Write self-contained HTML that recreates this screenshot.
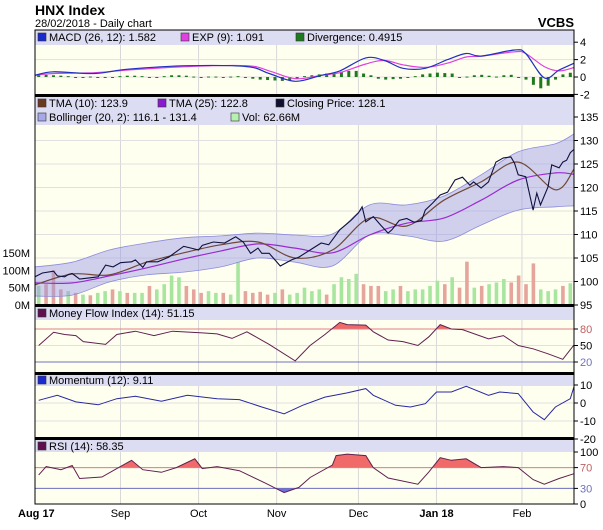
<!DOCTYPE html>
<html><head><meta charset="utf-8">
<style>
html,body{margin:0;padding:0;background:#fff;}
svg{display:block;font-family:"Liberation Sans",sans-serif;}
</style></head>
<body>
<svg id="chart" width="603" height="530" viewBox="0 0 603 530">
  <text x="35" y="15" font-size="14" font-weight="bold" fill="#000">HNX Index</text>
  <text x="35" y="27" font-size="11" fill="#000">28/02/2018 - Daily chart</text>
  <text x="574" y="27" font-size="13" font-weight="bold" text-anchor="end" fill="#000">VCBS</text>
  <g id="layer"></g>
</svg>
<script>
// ---- data ----
const monthLabels = ["Aug 17","Sep","Oct","Nov","Dec","Jan 18","Feb"];
const monthDays = [0,23,44,65,87,108,131];
const closeDays = [0,2,5,6,8,9,10,12,14,17,19,21,23,26,27,29,30,33,36,40,42,44,45,48,51,54,56,58,60,61,63,66,69,71,74,77,79,82,85,87,88,89,91,93,95,96,98,100,102,104,105,107,109,111,113,115,117,118,120,122,124,126,128,129,130,132,134,135,136,138,139,141,142,143,144,145];
const closeVals = [101,101.8,102.2,101.2,101,101.5,101.7,100.5,100.7,101,103.5,103.1,104,104.2,104.6,103,104.2,104.2,105.2,107.5,107.1,106.7,107.7,108.4,108.2,109.5,108.4,106,107.1,106,106,103.3,104.6,105.2,106.7,108.2,107.8,111,113,114.6,115.9,112.7,113.8,112,110.3,111,113,113.4,112.6,113,115.2,116.7,118.4,119,121.6,122.2,120.5,121.2,119.9,121.2,125.4,126.3,126.5,125.2,122.7,122.3,115.2,118.8,116.3,120.1,124.8,124.2,125.4,125.8,127.4,128.1];
const bandDays = [0,10,20,30,40,50,60,70,80,90,100,110,120,130,140,145];
const tma10 = [99.3,101.6,101.4,104.1,106.1,107.8,108.4,105,106.7,113.5,111.8,117.3,121.2,125.4,119.5,123.9];
const tma25 = [99.7,99.7,101.2,102.9,104.8,106.5,108,107.1,106.1,109.9,112.4,113.5,117.3,121.6,123.1,122.8];
const bbUpper = [103.1,104.1,106.7,108.2,109.3,109.7,110.3,109.9,110.1,116.3,116.3,118.2,122.7,127.6,129.3,131.4];
const bbLower = [96.9,97.1,99.9,101.4,102,103.1,105,104.1,103.3,109.9,109.7,108.6,112,115.2,115.9,116.1];
const volumes = [55,60,100,45,40,35,30,28,35,40,45,40,35,35,35,55,45,60,85,80,55,45,35,40,35,35,30,124,40,35,38,30,35,45,30,35,50,40,45,30,60,80,75,90,60,55,55,40,45,55,40,45,45,55,70,60,80,50,125,50,55,60,65,75,65,85,60,120,45,40,45,55,62.66];
const volUp = [1,0,0,0,1,0,1,0,1,1,0,1,0,1,1,0,1,1,1,1,0,0,0,1,1,0,1,1,0,0,0,0,1,0,1,1,1,1,1,0,1,1,1,1,0,0,0,1,1,0,1,1,1,1,1,0,1,0,0,1,0,1,1,1,0,0,0,0,1,1,1,0,1];
const macdDays = [0,5,16,25,41,57,63,70,77,82,89,94,99,105,111,116,120,129,132,137,141,145];
const macdVals = [0.2,0.6,0.4,0.9,1.3,1.2,0.4,-0.5,0.2,0.7,2.2,1.9,1.0,1.0,2.0,2.7,2.4,3.1,2.7,-0.1,0.8,1.582];
const expVals = [0.2,0.4,0.5,0.8,1.2,1.3,0.7,-0.2,0.2,0.5,1.5,1.9,1.4,1.1,1.6,2.3,2.4,2.9,2.7,1.2,0.7,1.091];
const divergence = [0.2,0.25,0.2,0.15,0.1,0,0,0.05,0,0,-0.05,0.1,0.15,0.15,0.1,0,0,0.1,0.2,0.2,0.15,0.05,0,0.05,0.05,0,0.05,0.1,0,-0.2,-0.3,-0.35,-0.4,-0.45,-0.35,-0.2,0.1,0.2,0.3,0.4,0.5,0.6,0.7,0.7,0.4,0.2,-0.2,-0.3,-0.25,-0.2,-0.1,0.1,0.3,0.4,0.5,0.45,0.4,0,0.05,0.2,0.25,0.15,0.05,0.2,0.25,0,-0.3,-0.9,-1.3,-1.0,-0.3,0.3,0.49];
const mfiDays = [1,5,8,11,13,19,22,27,32,37,45,49,53,57,63,70,74,78,82,84,89,91,95,99,103,106,109,112,115,122,126,130,134,138,142,145];
const mfiVals = [50,74,70,68,57,52,70,76,68,76,73,71,63,75,52,22,50,70,92,88,87,75,60,57,50,66,88,80,79,62,68,50,44,35,25,51.15];
const momDays = [1,6,11,17,22,27,34,41,49,55,61,67,72,78,84,89,91,97,101,105,108,112,116,122,125,130,134,137,140,144,145];
const momVals = [1.5,4.3,0.6,-1,2.4,3.7,1,4.3,2.4,1.9,-2.2,-6,-1.3,3.3,5.6,8,4.3,-1.3,-2.2,-0.4,6.1,6.1,9.3,4.3,6.1,5.2,-5,-9.3,-2.2,2.4,9.11];
const rsiDays = [1,3,7,10,12,18,22,26,29,34,38,43,45,49,55,62,67,71,74,80,81,84,89,91,95,103,106,109,112,116,120,126,130,134,137,141,145];
const rsiVals = [56,72,66,74,49,52,68,84,66,61,70,87,68,72,64,40,22,32,51,75,93,96,93,70,50,38,62,89,84,87,70,72,70,47,38,49,58.35];
const macdTicks = [4,2,0,-2];
const priceTicks = [135,130,125,120,115,110,105,100,95];
const volTicks = [150,100,50,0];
const mfiTicks = [80,50,20];
const momTicks = [10,0,-10,-20];
const rsiTicks = [100,70,30,0];

// ---- layout ----
const X0 = 35, X1 = 574, NDAYS = 145;
const xs = d => X0 + d * (X1 - X0) / NDAYS;
const lin = (v0, y0, v1, y1) => v => y0 + (v - v0) * (y1 - y0) / (v1 - v0);
const yMacd = lin(0, 77, 4, 42.2);
const yPrice = lin(95, 305, 135, 117);
const yVol = lin(0, 305, 150, 253);
const yMfi = lin(20, 362, 80, 329);
const yMom = lin(0, 403, 10, 385);
const yRsi = lin(0, 504, 100, 452);

const NS = "http://www.w3.org/2000/svg";
const layer = document.getElementById("layer");
function mk(tag, attrs, parent) {
  const e = document.createElementNS(NS, tag);
  for (const k in attrs) e.setAttribute(k, attrs[k]);
  (parent || layer).appendChild(e);
  return e;
}
function linePath(days, vals, ys) {
  return days.map((d, i) => (i ? "L" : "M") + xs(d).toFixed(1) + "," + ys(vals[i]).toFixed(1)).join("");
}
function smoothPath(days, vals, ys, cont) {
  const p = days.map((d, i) => [xs(d), ys(vals[i])]);
  let s = cont ? "L" : "M";
  s += p[0][0].toFixed(1) + "," + p[0][1].toFixed(1);
  for (let i = 0; i < p.length - 1; i++) {
    const a = p[Math.max(0, i - 1)], b = p[i], c = p[i + 1], e = p[Math.min(p.length - 1, i + 2)];
    const c1 = [b[0] + (c[0] - a[0]) / 6, b[1] + (c[1] - a[1]) / 6];
    const c2 = [c[0] - (e[0] - b[0]) / 6, c[1] - (e[1] - b[1]) / 6];
    s += "C" + c1.map(v => v.toFixed(1)).join(",") + " " + c2.map(v => v.toFixed(1)).join(",") + " " + c[0].toFixed(1) + "," + c[1].toFixed(1);
  }
  return s;
}

const panels = [
  {name:"macd", top:30, leg:45, bot:95, ticks:macdTicks, ys:yMacd},
  {name:"price", top:96, leg:125, bot:305, ticks:priceTicks, ys:yPrice},
  {name:"mfi", top:306, leg:320, bot:373, ticks:mfiTicks, ys:yMfi},
  {name:"momentum", top:374, leg:386, bot:438, ticks:momTicks, ys:yMom},
  {name:"rsi", top:439, leg:452, bot:504, ticks:rsiTicks, ys:yRsi}
];

panels.forEach(p => {
  const g = mk("g", {});
  
  
  const bg = mk("rect", {x:X0, y:p.top, width:X1-X0, height:p.bot-p.top, fill:"#fffff0"}, g);
  
  
  monthDays.forEach(d => {
    const gl = mk("line", {x1:xs(d), x2:xs(d), y1:p.top, y2:p.bot, stroke:"#d8d8d8", "stroke-width":1}, g);
    
    
  });
  p.ticks.forEach(t => {
    const y = p.ys(t);
    if (y > p.leg + 1 && y < p.bot - 1) {
      const hl = mk("line", {x1:X0, x2:X1, y1:y, y2:y, stroke:"#e0e0e0", "stroke-width":1}, g);
      
      
    }
    const tk = mk("line", {x1:X1, x2:X1+4, y1:y, y2:y, stroke:"#000"}, g);
    
    
    let col = "#000";
    if ((p.name === "mfi" && t === 80) || (p.name === "rsi" && t === 70)) col = "#c06060";
    if ((p.name === "mfi" && t === 20) || (p.name === "rsi" && t === 30)) col = "#7070c0";
    const tl = mk("text", {x:X1+6, y:y+4, "font-size":11, fill:col}, g);
    tl.textContent = t;
    
    
  });
  const lb = mk("rect", {x:X0, y:p.top, width:X1-X0, height:p.leg-p.top, fill:"#dcdcf2"}, g);
  
  
  p.g = g;
});

function hline(y, color, name) {
  const l = mk("line", {x1:X0, x2:X1, y1:y, y2:y, stroke:color, "stroke-width":1});
  
  
}

// ---- MACD ----
const divW = (X1 - X0) / divergence.length;
divergence.forEach((v, i) => {
  const x = X0 + (i + 0.5) * divW;
  const y0 = yMacd(0), y1 = yMacd(v);
  const r = mk("rect", {x:x-1.5, y:Math.min(y0,y1), width:3, height:Math.max(1, Math.abs(y1-y0)), fill:"#1f7a1f"});
  
  
});
const expLine = mk("path", {d:smoothPath(macdDays, expVals, yMacd), fill:"none", stroke:"#e040e0", "stroke-width":1.2});


const macdLine = mk("path", {d:smoothPath(macdDays, macdVals, yMacd), fill:"none", stroke:"#2030c0", "stroke-width":1.2});



// ---- Price panel ----
const vW = (X1 - X0) / volumes.length;
volumes.forEach((v, i) => {
  const x = X0 + (i + 0.5) * vW;
  const r = mk("rect", {x:x-1.8, y:yVol(v), width:3.6, height:yVol(0)-yVol(v), fill: volUp[i] ? "#a8e6a0" : "#e6a59c"});
  
  
});
const lowRev = bandDays.slice().reverse(), lowValsRev = bbLower.slice().reverse();
const band = mk("path", {d:smoothPath(bandDays, bbUpper, yPrice) + smoothPath(lowRev, lowValsRev, yPrice, true) + "Z", fill:"rgba(150,150,230,0.45)", stroke:"#8c8cdc", "stroke-width":0.8});


const t25 = mk("path", {d:smoothPath(bandDays, tma25, yPrice), fill:"none", stroke:"#9a2ad0", "stroke-width":1.2});


const t10 = mk("path", {d:smoothPath(bandDays, tma10, yPrice), fill:"none", stroke:"#70483a", "stroke-width":1.2});


const cl = mk("path", {d:linePath(closeDays, closeVals, yPrice), fill:"none", stroke:"#101040", "stroke-width":1.1});


volTicks.forEach(t => {
  const tx = mk("text", {x:30, y:yVol(t)+4, "font-size":11, "text-anchor":"end", fill:"#000"});
  tx.textContent = t + "M";
  
  
});

// ---- threshold fills ----
let clipN = 0;
function thresholdFill(days, vals, ys, thr, above, color, name) {
  const id = "clip" + (clipN++);
  const cp = mk("clipPath", {id:id});
  const yt = ys(thr);
  mk("rect", above ? {x:X0, y:0, width:X1-X0, height:yt} : {x:X0, y:yt, width:X1-X0, height:600}, cp);
  const d = linePath(days, vals, ys) + "L" + xs(days[days.length-1]) + "," + yt + "L" + xs(days[0]) + "," + yt + "Z";
  const f = mk("path", {d:d, fill:color, "clip-path":"url(#" + id + ")"});
  
  
}
thresholdFill(mfiDays, mfiVals, yMfi, 80, true, "#f06a6a", "mfi-overbought-fill");
hline(yMfi(80), "#e08080", "mfi-80-line");
hline(yMfi(20), "#7070c0", "mfi-20-line");
const mfiL = mk("path", {d:linePath(mfiDays, mfiVals, yMfi), fill:"none", stroke:"#602050", "stroke-width":1});


const momL = mk("path", {d:linePath(momDays, momVals, yMom), fill:"none", stroke:"#2828a0", "stroke-width":1});


thresholdFill(rsiDays, rsiVals, yRsi, 70, true, "#f06a6a", "rsi-overbought-fill");
thresholdFill(rsiDays, rsiVals, yRsi, 30, false, "#7070e0", "rsi-oversold-fill");
hline(yRsi(70), "#e08080", "rsi-70-line");
hline(yRsi(30), "#7070c0", "rsi-30-line");
const rsiL = mk("path", {d:linePath(rsiDays, rsiVals, yRsi), fill:"none", stroke:"#602050", "stroke-width":1});



// ---- borders ----
panels.forEach(p => {
  const b = mk("rect", {x:X0, y:p.top, width:X1-X0, height:p.bot-p.top, fill:"none", stroke:"#000", "stroke-width":1});
  
  
});
[95.5, 305.5, 373.5, 438.5].forEach(y => {
  const s = mk("line", {x1:X0, x2:X1, y1:y, y2:y, stroke:"#000", "stroke-width":3});
  
  
});

// ---- legends ----
function legend(x, y, color, text, name) {
  const sw = mk("rect", {x:x, y:y-8, width:8, height:8, fill:color, stroke:"#333", "stroke-width":0.6});
  
  
  const t = mk("text", {x:x+11, y:y, "font-size":11, fill:"#000"});
  t.textContent = text;
  
  
}
legend(38, 41, "#1a2ad0", "MACD (26, 12): 1.582", "legend-macd");
legend(181, 41, "#e040e0", "EXP (9): 1.091", "legend-exp");
legend(296, 41, "#1f7a1f", "Divergence: 0.4915", "legend-divergence");
legend(38, 107, "#6b3a1e", "TMA (10): 123.9", "legend-tma10");
legend(158, 107, "#8a1ad0", "TMA (25): 122.8", "legend-tma25");
legend(276, 107, "#101030", "Closing Price: 128.1", "legend-closing-price");
legend(38, 121, "#a8a8e8", "Bollinger (20, 2): 116.1 - 131.4", "legend-bollinger");
legend(231, 121, "#b8f0b0", "Vol: 62.66M", "legend-volume");
legend(38, 317, "#601050", "Money Flow Index (14): 51.15", "legend-mfi");
legend(38, 384, "#1a2ad0", "Momentum (12): 9.11", "legend-momentum");
legend(38, 450, "#601050", "RSI (14): 58.35", "legend-rsi");

// ---- x axis ----
monthLabels.forEach((m, i) => {
  const bold = (m === "Aug 17" || m === "Jan 18");
  const x = i === 0 ? 18 : xs(monthDays[i]);
  const t = mk("text", {x:x, y:517, "font-size":11, "font-weight": bold ? "bold" : "normal", "text-anchor": i === 0 ? "start" : "middle", fill:"#000"});
  t.textContent = m;
  
  
});
</script>
</body></html>
